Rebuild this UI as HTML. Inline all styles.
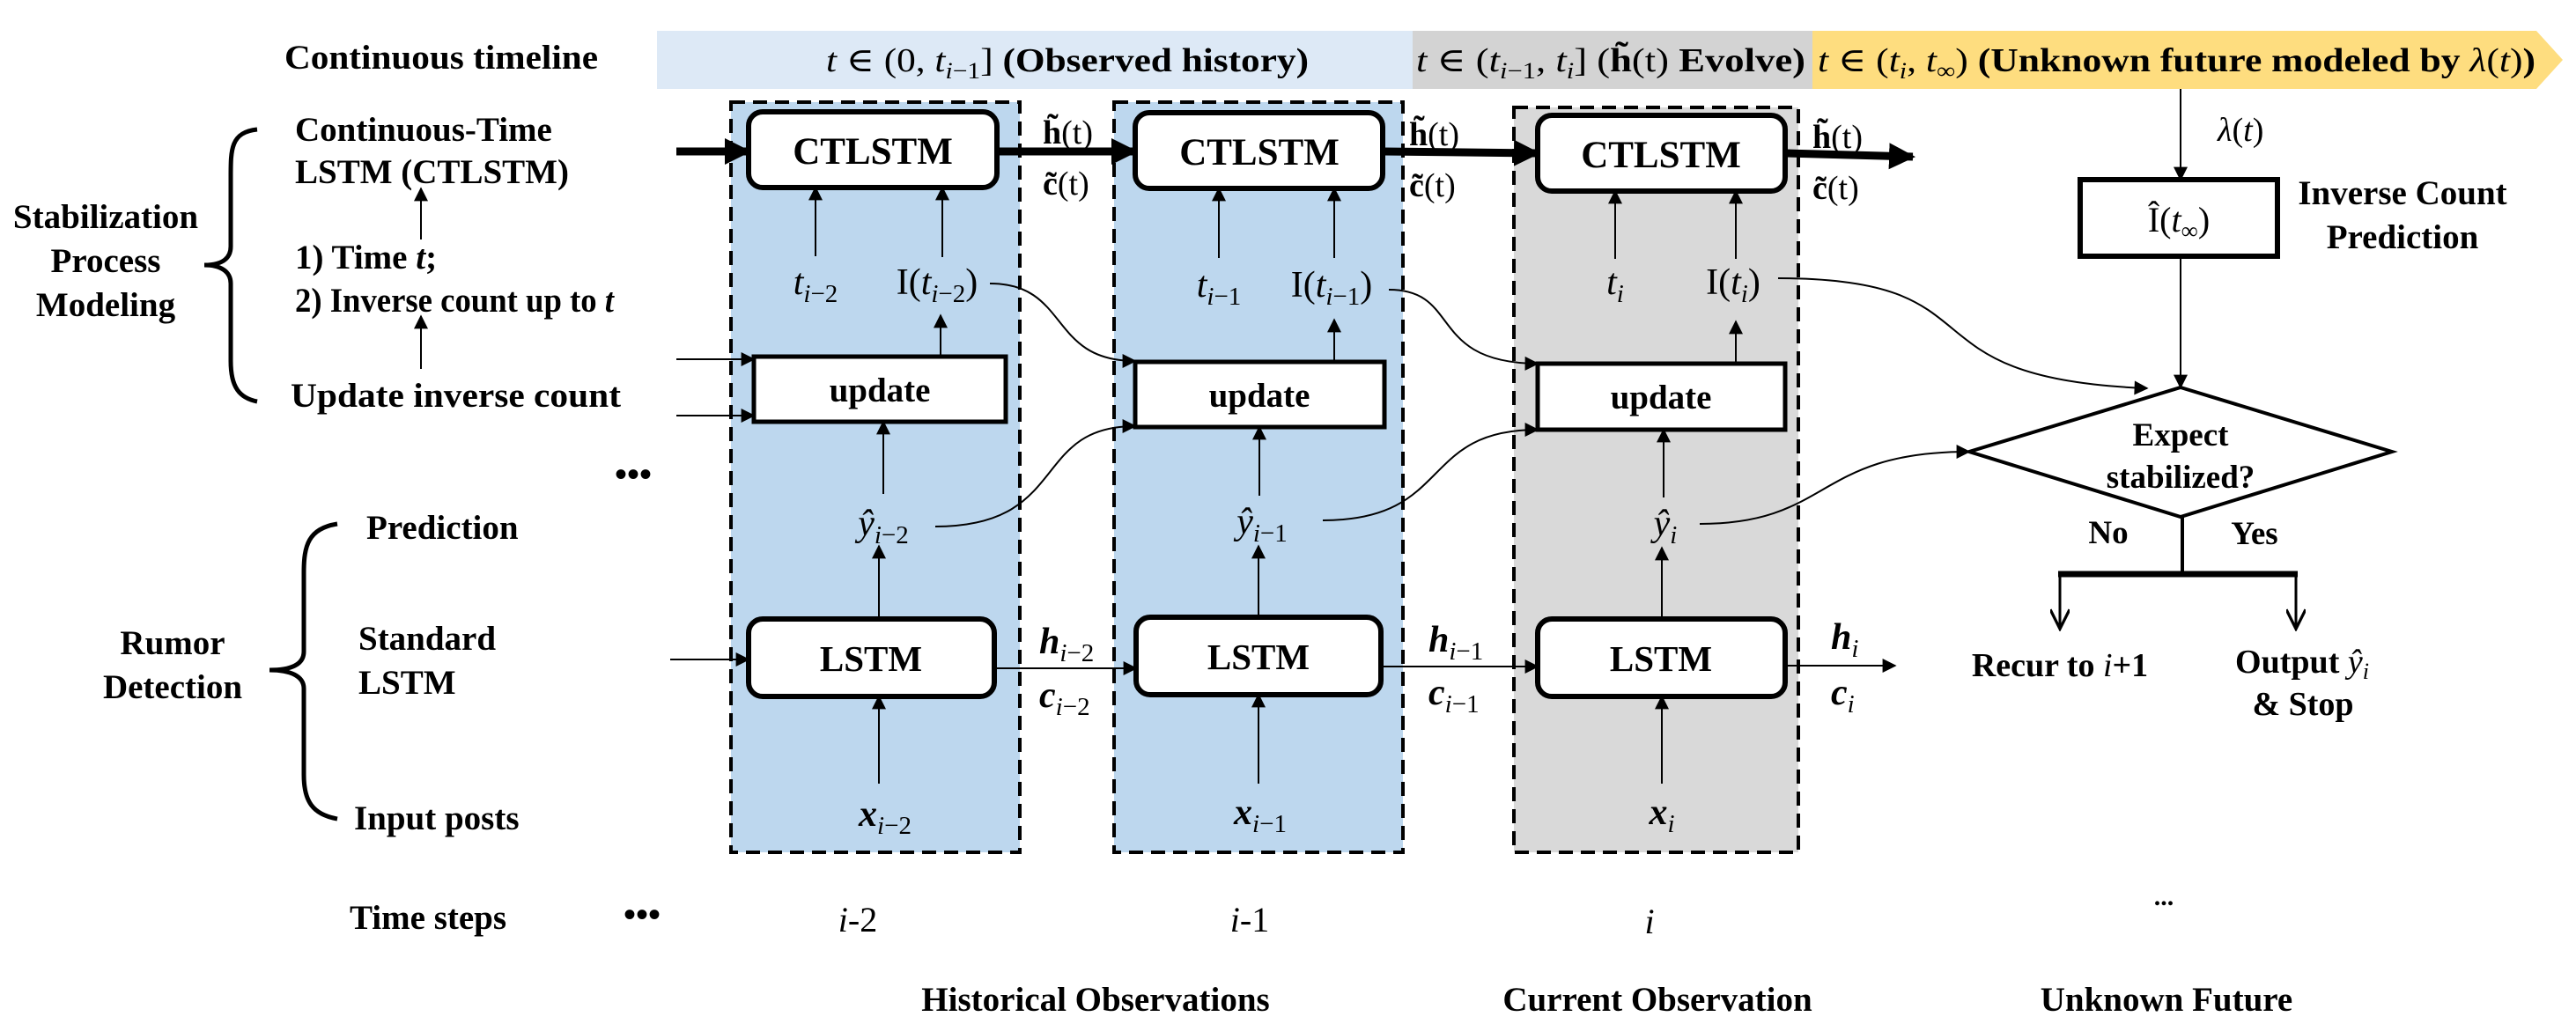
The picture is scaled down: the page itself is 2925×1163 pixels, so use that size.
<!DOCTYPE html>
<html><head><meta charset="utf-8"><style>
html,body{margin:0;padding:0;background:#fff;}
svg{display:block;}
text{font-family:"Liberation Serif","DejaVu Serif",serif;fill:#000;}
.b{font-weight:bold;}
.i{font-style:italic;}
</style></head><body>
<svg width="2925" height="1163" viewBox="0 0 2925 1163" xmlns="http://www.w3.org/2000/svg">
<defs>
<marker id="ahs" viewBox="0 0 10 10" refX="9" refY="5" markerWidth="22" markerHeight="16" orient="auto" markerUnits="userSpaceOnUse"><path d="M0,0 L10,5 L0,10 z" fill="#000"/></marker>
<marker id="ahb" viewBox="0 0 10 10" refX="9" refY="5" markerWidth="30" markerHeight="34" orient="auto" markerUnits="userSpaceOnUse"><path d="M0,0 L10,5 L0,10 z" fill="#000"/></marker>
<marker id="ahv" viewBox="0 0 10 10" refX="9" refY="5" markerWidth="28" markerHeight="22" orient="auto" markerUnits="userSpaceOnUse"><path d="M0,0 L10,5 L0,10" fill="none" stroke="#000" stroke-width="1.5"/></marker>
</defs>

<!-- timeline band -->
<rect x="746" y="35" width="858" height="66" fill="#dde9f6"/>
<rect x="1604" y="35" width="454" height="66" fill="#d3d3d3"/>
<path d="M2058,35 L2880,35 L2910,68 L2880,101 L2058,101 z" fill="#fedd7f"/>
<text x="323" y="78" class="b" font-size="39" textLength="356" lengthAdjust="spacingAndGlyphs">Continuous timeline</text>
<text x="938" y="81" font-size="38" textLength="548" lengthAdjust="spacingAndGlyphs"><tspan class="i">t</tspan> ∈ (0, <tspan class="i">t</tspan><tspan font-size="26" dy="8" class="i">i</tspan><tspan font-size="26">−1</tspan><tspan dy="-8">] </tspan><tspan class="b">(Observed history)</tspan></text>
<text x="1608" y="81" font-size="38" textLength="442" lengthAdjust="spacingAndGlyphs"><tspan class="i">t</tspan> ∈ (<tspan class="i">t</tspan><tspan font-size="26" dy="8" class="i">i</tspan><tspan font-size="26">−1</tspan><tspan dy="-8">, </tspan><tspan class="i">t</tspan><tspan font-size="26" dy="8" class="i">i</tspan><tspan dy="-8">] (</tspan><tspan class="b">h̃</tspan>(t) <tspan class="b">Evolve)</tspan></text>
<text x="2064" y="81" font-size="38" textLength="815" lengthAdjust="spacingAndGlyphs"><tspan class="i">t</tspan> ∈ (<tspan class="i">t</tspan><tspan font-size="26" dy="8" class="i">i</tspan><tspan dy="-8">, </tspan><tspan class="i">t</tspan><tspan font-size="26" dy="8">∞</tspan><tspan dy="-8">) </tspan><tspan class="b">(Unknown future modeled by </tspan><tspan class="i">λ</tspan>(<tspan class="i">t</tspan>)<tspan class="b">)</tspan></text>

<!-- dashed boxes -->
<rect x="830" y="116" width="328" height="852" fill="#bdd7ee" stroke="#000" stroke-width="4" stroke-dasharray="16,9"/>
<rect x="1265" y="116" width="328" height="852" fill="#bdd7ee" stroke="#000" stroke-width="4" stroke-dasharray="16,9"/>
<rect x="1719" y="122" width="323" height="846" fill="#d9d9d9" stroke="#000" stroke-width="4" stroke-dasharray="16,9"/>

<g fill="#fff" stroke="#000" stroke-width="6">
<rect x="850" y="127" width="282" height="86" rx="16"/>
<rect x="1289" y="128" width="281" height="86" rx="16"/>
<rect x="1746" y="131" width="281" height="86" rx="16"/>
<rect x="856" y="405" width="286" height="74" stroke-width="5"/>
<rect x="1289" y="411" width="283" height="74" stroke-width="5"/>
<rect x="1746" y="413" width="281" height="75" stroke-width="5"/>
<rect x="850" y="703" width="279" height="88" rx="16"/>
<rect x="1290" y="701" width="278" height="88" rx="16"/>
<rect x="1746" y="703" width="281" height="88" rx="16"/>
<rect x="2362" y="204" width="224" height="87" stroke-width="6"/>
</g>
<g font-size="43" text-anchor="middle">
<text x="991" y="186" class="b">CTLSTM</text>
<text x="1430" y="187" class="b">CTLSTM</text>
<text x="1886" y="190" class="b">CTLSTM</text>
</g>
<g font-size="39" text-anchor="middle">
<text x="999" y="456" class="b">update</text>
<text x="1430" y="462" class="b">update</text>
<text x="1886" y="464" class="b">update</text>
</g>
<g font-size="41" text-anchor="middle">
<text x="989" y="762" class="b">LSTM</text>
<text x="1429" y="760" class="b">LSTM</text>
<text x="1886" y="762" class="b">LSTM</text>
</g>

<g stroke="#000" stroke-width="9" fill="none">
<line x1="768" y1="172" x2="850" y2="172" marker-end="url(#ahb)"/>
<line x1="1132" y1="172" x2="1289" y2="172" marker-end="url(#ahb)"/>
<line x1="1570" y1="172" x2="1746" y2="174" marker-end="url(#ahb)"/>
<line x1="2027" y1="174" x2="2172" y2="178" marker-end="url(#ahb)"/>
</g>
<g font-size="38">
<text x="1184" y="163"><tspan class="b">h̃</tspan>(t)</text>
<text x="1184" y="221"><tspan class="b">c̃</tspan>(t)</text>
<text x="1600" y="165"><tspan class="b">h̃</tspan>(t)</text>
<text x="1600" y="223"><tspan class="b">c̃</tspan>(t)</text>
<text x="2058" y="168"><tspan class="b">h̃</tspan>(t)</text>
<text x="2058" y="226"><tspan class="b">c̃</tspan>(t)</text>
</g>

<g stroke="#000" stroke-width="2" fill="none">
<line x1="926" y1="291" x2="926" y2="213" marker-end="url(#ahs)"/>
<line x1="1070" y1="292" x2="1070" y2="213" marker-end="url(#ahs)"/>
<line x1="1068" y1="405" x2="1068" y2="358" marker-end="url(#ahs)"/>
<line x1="1003" y1="561" x2="1003" y2="479" marker-end="url(#ahs)"/>
<line x1="998" y1="702" x2="998" y2="620" marker-end="url(#ahs)"/>
<line x1="998" y1="890" x2="998" y2="791" marker-end="url(#ahs)"/>
<line x1="1384" y1="293" x2="1384" y2="214" marker-end="url(#ahs)"/>
<line x1="1515" y1="293" x2="1515" y2="214" marker-end="url(#ahs)"/>
<line x1="1515" y1="411" x2="1515" y2="363" marker-end="url(#ahs)"/>
<line x1="1430" y1="563" x2="1430" y2="485" marker-end="url(#ahs)"/>
<line x1="1429" y1="701" x2="1429" y2="620" marker-end="url(#ahs)"/>
<line x1="1429" y1="890" x2="1429" y2="789" marker-end="url(#ahs)"/>
<line x1="1834" y1="294" x2="1834" y2="217" marker-end="url(#ahs)"/>
<line x1="1971" y1="294" x2="1971" y2="217" marker-end="url(#ahs)"/>
<line x1="1971" y1="413" x2="1971" y2="365" marker-end="url(#ahs)"/>
<line x1="1889" y1="565" x2="1889" y2="488" marker-end="url(#ahs)"/>
<line x1="1887" y1="703" x2="1887" y2="622" marker-end="url(#ahs)"/>
<line x1="1887" y1="890" x2="1887" y2="791" marker-end="url(#ahs)"/>
<line x1="768" y1="408" x2="856" y2="408" marker-end="url(#ahs)"/>
<line x1="768" y1="472" x2="856" y2="472" marker-end="url(#ahs)"/>
<line x1="761" y1="749" x2="850" y2="749" marker-end="url(#ahs)"/>
<line x1="1129" y1="759" x2="1290" y2="759" marker-end="url(#ahs)"/>
<line x1="1568" y1="757" x2="1746" y2="757" marker-end="url(#ahs)"/>
<line x1="2027" y1="756" x2="2152" y2="756" marker-end="url(#ahs)"/>
<path d="M1124,322 C1215,322 1190,410 1289,410" marker-end="url(#ahs)"/>
<path d="M1062,598 C1215,598 1170,484 1289,484" marker-end="url(#ahs)"/>
<path d="M1577,329 C1660,329 1620,412 1746,413" marker-end="url(#ahs)"/>
<path d="M1502,591 C1650,591 1610,488 1746,488" marker-end="url(#ahs)"/>
<path d="M2019,316 C2280,316 2150,430 2438,441" marker-end="url(#ahs)"/>
<path d="M1930,595 C2080,595 2060,513 2236,513" marker-end="url(#ahs)"/>
<line x1="2476" y1="101" x2="2476" y2="204" marker-end="url(#ahs)"/>
<line x1="2476" y1="291" x2="2476" y2="440" marker-end="url(#ahs)"/>
<line x1="478" y1="272" x2="478" y2="214" marker-end="url(#ahs)"/>
<line x1="478" y1="419" x2="478" y2="359" marker-end="url(#ahs)"/>
</g>

<path d="M2476,440 L2716,513 L2476,587 L2236,513 z" fill="#fff" stroke="#000" stroke-width="4"/>
<text x="2476" y="506" class="b" font-size="37" text-anchor="middle">Expect</text>
<text x="2476" y="554" class="b" font-size="37" text-anchor="middle">stabilized?</text>
<text x="2394" y="617" class="b" font-size="37" text-anchor="middle">No</text>
<text x="2560" y="618" class="b" font-size="37" text-anchor="middle">Yes</text>
<line x1="2478" y1="587" x2="2478" y2="652" stroke="#000" stroke-width="4"/>
<line x1="2337" y1="652" x2="2609" y2="652" stroke="#000" stroke-width="7"/>
<g stroke="#000" stroke-width="3" fill="none">
<line x1="2339" y1="652" x2="2339" y2="712" marker-end="url(#ahv)"/>
<line x1="2607" y1="652" x2="2607" y2="712" marker-end="url(#ahv)"/>
</g>
<text x="2339" y="768" class="b" font-size="38" text-anchor="middle">Recur to <tspan class="i" font-weight="normal">i</tspan>+1</text>
<text x="2538" y="764" class="b" font-size="38" textLength="152" lengthAdjust="spacingAndGlyphs">Output <tspan class="i" font-weight="normal">ŷ</tspan><tspan class="i" font-weight="normal" font-size="26" dy="7">i</tspan></text>
<text x="2615" y="812" class="b" font-size="38" text-anchor="middle">&amp; Stop</text>

<text x="2518" y="160" font-size="38"><tspan class="i">λ</tspan>(<tspan class="i">t</tspan>)</text>
<text x="2474" y="263" font-size="40" text-anchor="middle">Î(<tspan class="i">t</tspan><tspan font-size="27" dy="8">∞</tspan><tspan dy="-8">)</tspan></text>
<text x="2728" y="232" class="b" font-size="39" text-anchor="middle">Inverse Count</text>
<text x="2728" y="282" class="b" font-size="39" text-anchor="middle">Prediction</text>

<g font-size="42">
<text x="926" y="334" text-anchor="middle"><tspan class="i">t</tspan><tspan font-size="29" dy="9"><tspan class="i">i</tspan>−2</tspan></text>
<text x="1064" y="334" text-anchor="middle">I(<tspan class="i">t</tspan><tspan font-size="29" dy="9"><tspan class="i">i</tspan>−2</tspan><tspan dy="-9">)</tspan></text>
<text x="1384" y="337" text-anchor="middle"><tspan class="i">t</tspan><tspan font-size="29" dy="9"><tspan class="i">i</tspan>−1</tspan></text>
<text x="1512" y="337" text-anchor="middle">I(<tspan class="i">t</tspan><tspan font-size="29" dy="9"><tspan class="i">i</tspan>−1</tspan><tspan dy="-9">)</tspan></text>
<text x="1834" y="334" text-anchor="middle"><tspan class="i">t</tspan><tspan font-size="29" dy="9" class="i">i</tspan></text>
<text x="1968" y="334" text-anchor="middle">I(<tspan class="i">t</tspan><tspan font-size="29" dy="9" class="i">i</tspan><tspan dy="-9">)</tspan></text>
<text x="1003" y="608" text-anchor="middle"><tspan class="i">ŷ</tspan><tspan font-size="29" dy="9"><tspan class="i">i</tspan>−2</tspan></text>
<text x="1433" y="606" text-anchor="middle"><tspan class="i">ŷ</tspan><tspan font-size="29" dy="9"><tspan class="i">i</tspan>−1</tspan></text>
<text x="1891" y="608" text-anchor="middle"><tspan class="i">ŷ</tspan><tspan font-size="29" dy="9" class="i">i</tspan></text>
<text x="1005" y="938" text-anchor="middle"><tspan class="i b">x</tspan><tspan font-size="29" dy="9"><tspan class="i">i</tspan>−2</tspan></text>
<text x="1431" y="936" text-anchor="middle"><tspan class="i b">x</tspan><tspan font-size="29" dy="9"><tspan class="i">i</tspan>−1</tspan></text>
<text x="1887" y="936" text-anchor="middle"><tspan class="i b">x</tspan><tspan font-size="29" dy="9" class="i">i</tspan></text>
<text x="1180" y="742"><tspan class="i b">h</tspan><tspan font-size="29" dy="9"><tspan class="i">i</tspan>−2</tspan></text>
<text x="1180" y="803"><tspan class="i b">c</tspan><tspan font-size="29" dy="9"><tspan class="i">i</tspan>−2</tspan></text>
<text x="1622" y="740"><tspan class="i b">h</tspan><tspan font-size="29" dy="9"><tspan class="i">i</tspan>−1</tspan></text>
<text x="1622" y="800"><tspan class="i b">c</tspan><tspan font-size="29" dy="9"><tspan class="i">i</tspan>−1</tspan></text>
<text x="2079" y="737"><tspan class="i b">h</tspan><tspan font-size="29" dy="9" class="i">i</tspan></text>
<text x="2079" y="800"><tspan class="i b">c</tspan><tspan font-size="29" dy="9" class="i">i</tspan></text>
</g>

<g font-size="39">
<text x="335" y="160" class="b">Continuous-Time</text>
<text x="335" y="208" class="b">LSTM (CTLSTM)</text>
<text x="335" y="305" class="b">1) Time <tspan class="i">t</tspan>;</text>
<text x="335" y="354" class="b" textLength="362" lengthAdjust="spacingAndGlyphs">2) Inverse count up to <tspan class="i">t</tspan></text>
<text x="330" y="462" class="b" textLength="375" lengthAdjust="spacingAndGlyphs">Update inverse count</text>
<text x="120" y="259" class="b" text-anchor="middle">Stabilization</text>
<text x="120" y="309" class="b" text-anchor="middle">Process</text>
<text x="120" y="359" class="b" text-anchor="middle">Modeling</text>
<text x="196" y="743" class="b" text-anchor="middle">Rumor</text>
<text x="196" y="793" class="b" text-anchor="middle">Detection</text>
<text x="416" y="612" class="b">Prediction</text>
<text x="407" y="738" class="b">Standard</text>
<text x="407" y="788" class="b">LSTM</text>
<text x="402" y="942" class="b">Input posts</text>
<text x="397" y="1055" class="b">Time steps</text>
<text x="1244" y="1148" class="b" text-anchor="middle">Historical Observations</text>
<text x="1882" y="1148" class="b" text-anchor="middle">Current Observation</text>
<text x="2460" y="1148" class="b" text-anchor="middle">Unknown Future</text>
</g>
<g font-size="40">
<text x="974" y="1058" text-anchor="middle"><tspan class="i">i</tspan>-2</text>
<text x="1419" y="1058" text-anchor="middle"><tspan class="i">i</tspan>-1</text>
<text x="1873" y="1060" text-anchor="middle" class="i">i</text>
</g>
<g class="b" font-size="40" text-anchor="middle">
<text x="719" y="552" class="b">•••</text>
<text x="729" y="1052" class="b">•••</text>
</g>
<text x="2457" y="1028" class="b" font-size="30" text-anchor="middle">...</text>

<g fill="none" stroke="#000" stroke-width="5">
<path d="M292,147 C262,150 262,170 262,200 L262,280 C262,295 250,301 232,301 C250,301 262,308 262,322 L262,410 C262,440 272,452 292,456"/>
<path d="M383,595 C350,600 345,620 345,650 L345,740 C345,755 330,761 306,761 C330,761 345,768 345,782 L345,880 C345,910 355,925 383,930"/>
</g>
</svg>
</body></html>
